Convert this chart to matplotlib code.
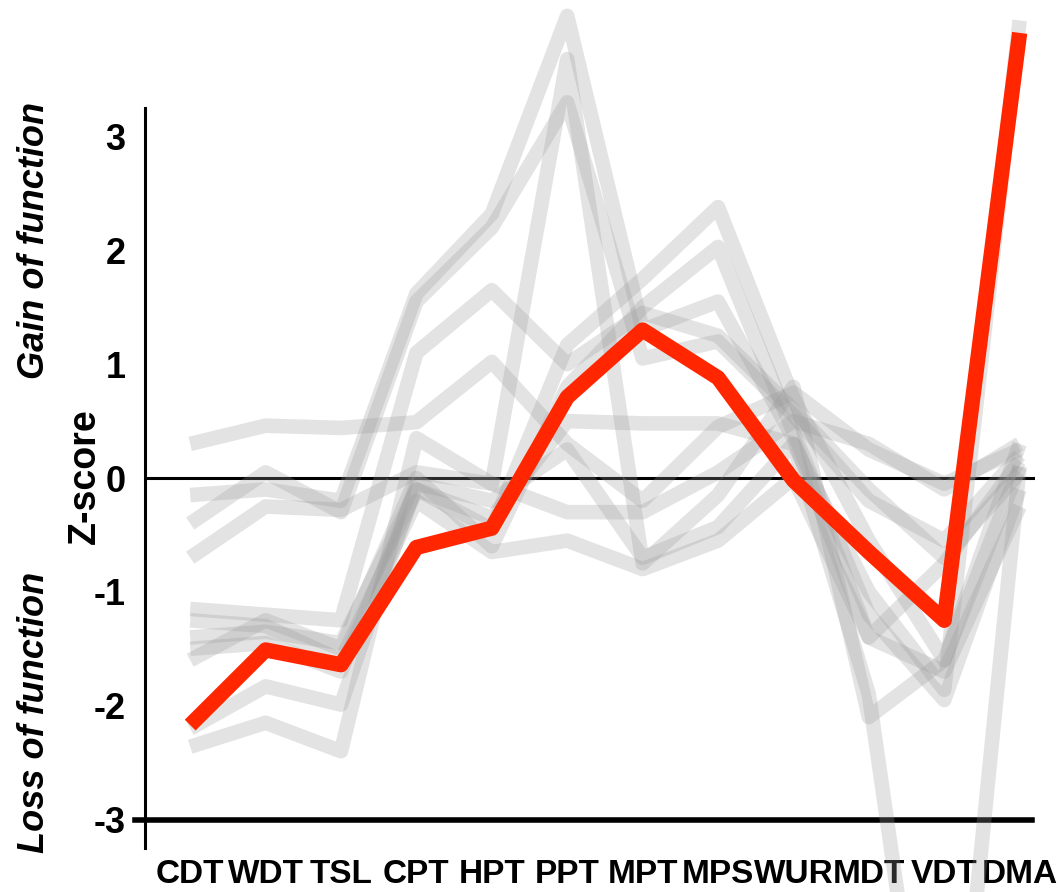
import matplotlib
matplotlib.use('Agg')
import matplotlib.pyplot as plt
import numpy as np

categories = ['CDT', 'WDT', 'TSL', 'CPT', 'HPT', 'PPT', 'MPT', 'MPS', 'WUR', 'MDT', 'VDT', 'DMA']

# highlighted patient
patient = [-2.17, -1.51, -1.64, -0.61, -0.44, 0.71, 1.30, 0.88, -0.02, -0.65, -1.25, 3.91]

# other patients (grey)
g01 = [0.30, 0.46, 0.44, 0.49, 1.02, 0.30, -0.20, 0.45, 0.75, 0.25, -0.05, 0.25]
g02 = [-0.15, -0.10, -0.20, 1.62, 2.32, 4.06, 1.30, 1.55, 0.35, -1.40, -0.75, 0.15]
g03 = [-0.40, 0.05, -0.30, 1.55, 2.20, 3.30, 1.05, 1.20, 0.55, -0.20, -0.55, 0.20]
g04 = [-0.70, -0.25, -0.28, 0.05, -0.05, 3.68, -0.75, -0.15, 0.80, -2.10, -1.60, 0.10]
g05 = [-1.15, -1.20, -1.25, 1.10, 1.65, 1.00, 1.45, 1.25, 0.60, -0.10, -0.70, 0.05]
g06 = [-1.40, -1.35, -1.45, -0.10, -0.45, 1.17, 1.75, 2.38, 0.70, -0.55, -1.60, 0.30]
g07 = [-1.60, -1.25, -1.50, 0.00, -0.60, 0.80, 1.50, 2.03, 0.40, -1.20, -1.95, -0.10]
g08 = [-2.20, -1.83, -1.99, -0.05, -0.20, 0.25, -0.70, -0.43, 0.30, -1.90, -6.50, 0.10]
g09 = [-2.36, -2.15, -2.40, 0.35, -0.05, -0.30, -0.30, 0.05, 0.50, 0.30, -0.10, 0.30]
g10 = [-1.25, -1.30, -1.60, -0.20, -0.65, -0.55, -0.80, -0.55, 0.00, -1.40, -1.70, -0.25]
g11 = [-1.50, -1.45, -1.70, -0.10, -0.35, 0.50, 0.48, 0.48, 0.30, -1.00, -1.86, 4.02]
others = [g01, g02, g03, g04, g05, g06, g07, g08, g09, g10, g11]

yticks = [-3, -2, -1, 0, 1, 2, 3]

plt.rcParams['font.family'] = ['Liberation Sans', 'DejaVu Sans']

fig = plt.figure(figsize=(10.58, 8.92), dpi=100)
ax = fig.add_axes([0.137, 0.0493, 0.841, 0.8296])

x = np.arange(len(categories))
for g in others:
  ax.plot(x, g, color='#9a9a9a', alpha=0.27, lw=10.5, solid_joinstyle='round',
          solid_capstyle='butt', clip_on=False, zorder=3)
ax.plot(x, patient, color='#FF2600', lw=11, solid_joinstyle='round',
        solid_capstyle='butt', clip_on=False, zorder=5)

ax.axhline(0, color='black', lw=2.2, zorder=2)
ax.axhline(-3, xmin=-0.011, xmax=0.997, color='black', lw=4, clip_on=False, zorder=2)

ax.set_xlim(-0.6, 11.2)
ax.set_ylim(-3.25, 3.25)
for s in ['top', 'right', 'bottom']:
  ax.spines[s].set_visible(False)
ax.spines['left'].set_linewidth(2.2)

ax.set_yticks(yticks)
ax.set_yticklabels([str(v) for v in yticks], fontsize=26, fontweight='bold')
ax.set_xticks(x)
ax.set_xticklabels(categories, fontsize=24, fontweight='bold')
ax.tick_params(axis='y', length=0, pad=14)
ax.tick_params(axis='x', length=0, pad=8)

fig.text(85/1058, 1-476/892, 'Z-score', rotation=90, ha='center', va='center',
         fontsize=27, fontweight='bold')
fig.text(35/1058, 1-240/892, 'Gain of function', rotation=90, ha='center', va='center',
         fontsize=26, fontweight='bold', style='italic')
fig.text(35/1058, 1-712/892, 'Loss of function', rotation=90, ha='center', va='center',
         fontsize=26, fontweight='bold', style='italic')

fig.savefig('out.png', dpi=100)
